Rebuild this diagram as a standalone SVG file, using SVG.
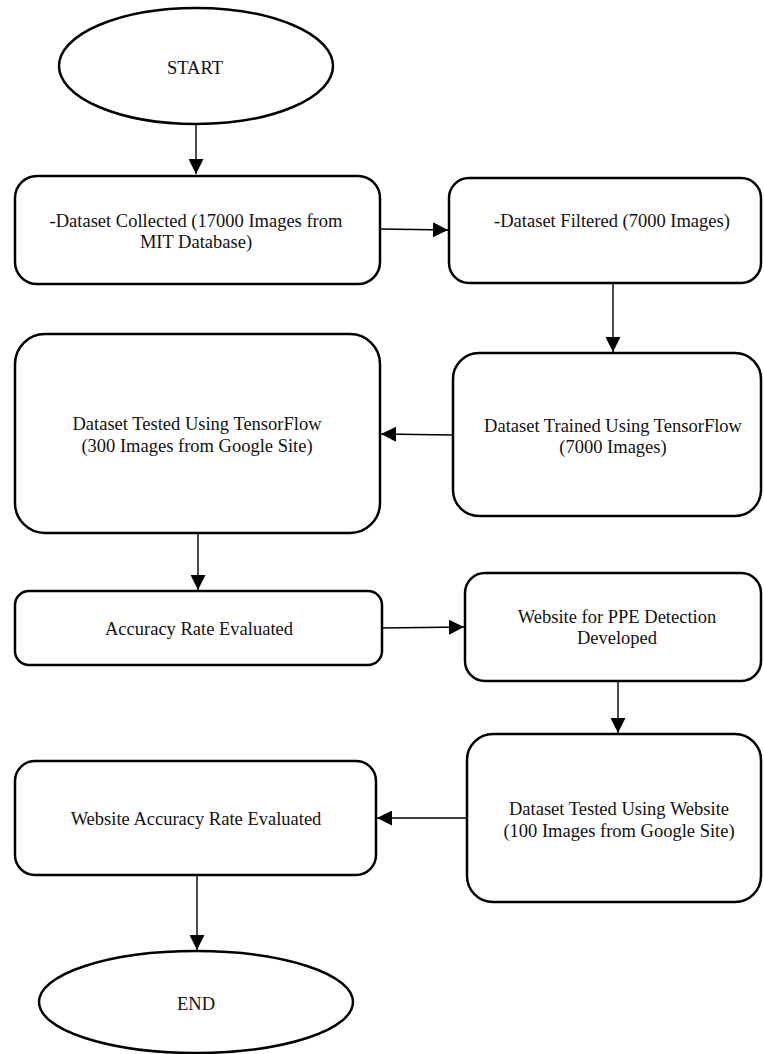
<svg xmlns="http://www.w3.org/2000/svg" width="764" height="1054" viewBox="0 0 764 1054">
<style>
.n{fill:#fff;stroke:#000;stroke-width:2.5}
.t{font-family:"Liberation Serif","Times New Roman",serif;font-size:18.5px;fill:#111;text-anchor:middle}
.c line{stroke:#000;stroke-width:1.4}
</style>
<defs>
<marker id="ah" markerUnits="userSpaceOnUse" markerWidth="15" markerHeight="15" refX="15" refY="7.5" orient="auto">
<path d="M0,0 L15,7.5 L0,15 z" fill="#000"/>
</marker>
</defs>
<rect width="764" height="1054" fill="#fff"/>
<g id="start">
<ellipse class="n" cx="196" cy="66" rx="137" ry="58"/>
<text class="t" x="195" y="74">START</text>
</g>
<g id="collected">
<rect class="n" x="15" y="176" width="365" height="108" rx="22"/>
<text class="t" x="196" y="227">-Dataset Collected (17000 Images from</text>
<text class="t" x="196" y="248">MIT Database)</text>
</g>
<g id="filtered">
<rect class="n" x="449" y="178" width="312" height="105" rx="20"/>
<text class="t" x="612" y="227">-Dataset Filtered (7000 Images)</text>
</g>
<g id="trained">
<rect class="n" x="453" y="353" width="308" height="163" rx="26"/>
<text class="t" x="613" y="432">Dataset Trained Using TensorFlow</text>
<text class="t" x="613" y="453">(7000 Images)</text>
</g>
<g id="testedtf">
<rect class="n" x="15" y="334" width="365" height="199" rx="30"/>
<text class="t" x="197" y="430">Dataset Tested Using TensorFlow</text>
<text class="t" x="197" y="452">(300 Images from Google Site)</text>
</g>
<g id="accuracy">
<rect class="n" x="15" y="591" width="367" height="74" rx="14"/>
<text class="t" x="199" y="635">Accuracy Rate Evaluated</text>
</g>
<g id="website">
<rect class="n" x="465" y="573" width="296" height="108" rx="20"/>
<text class="t" x="617" y="623">Website for PPE Detection</text>
<text class="t" x="617" y="644">Developed</text>
</g>
<g id="testedweb">
<rect class="n" x="467" y="734" width="294" height="168" rx="26"/>
<text class="t" x="619" y="815">Dataset Tested Using Website</text>
<text class="t" x="619" y="837">(100 Images from Google Site)</text>
</g>
<g id="webaccuracy">
<rect class="n" x="15" y="761" width="361" height="114" rx="20"/>
<text class="t" x="196" y="825">Website Accuracy Rate Evaluated</text>
</g>
<g id="end">
<ellipse class="n" cx="196" cy="1002" rx="157" ry="51"/>
<text class="t" x="196" y="1010">END</text>
</g>
<g id="connectors" class="c">
<line x1="196" y1="124" x2="196" y2="174" marker-end="url(#ah)"/>
<line x1="380" y1="229" x2="448" y2="230" marker-end="url(#ah)"/>
<line x1="613" y1="283" x2="613" y2="352" marker-end="url(#ah)"/>
<line x1="453" y1="435" x2="381" y2="434" marker-end="url(#ah)"/>
<line x1="198" y1="533" x2="198" y2="590" marker-end="url(#ah)"/>
<line x1="382" y1="628" x2="464" y2="627" marker-end="url(#ah)"/>
<line x1="618" y1="681" x2="618" y2="733" marker-end="url(#ah)"/>
<line x1="467" y1="818" x2="377" y2="818" marker-end="url(#ah)"/>
<line x1="197" y1="875" x2="197" y2="950" marker-end="url(#ah)"/>
</g>
</svg>
